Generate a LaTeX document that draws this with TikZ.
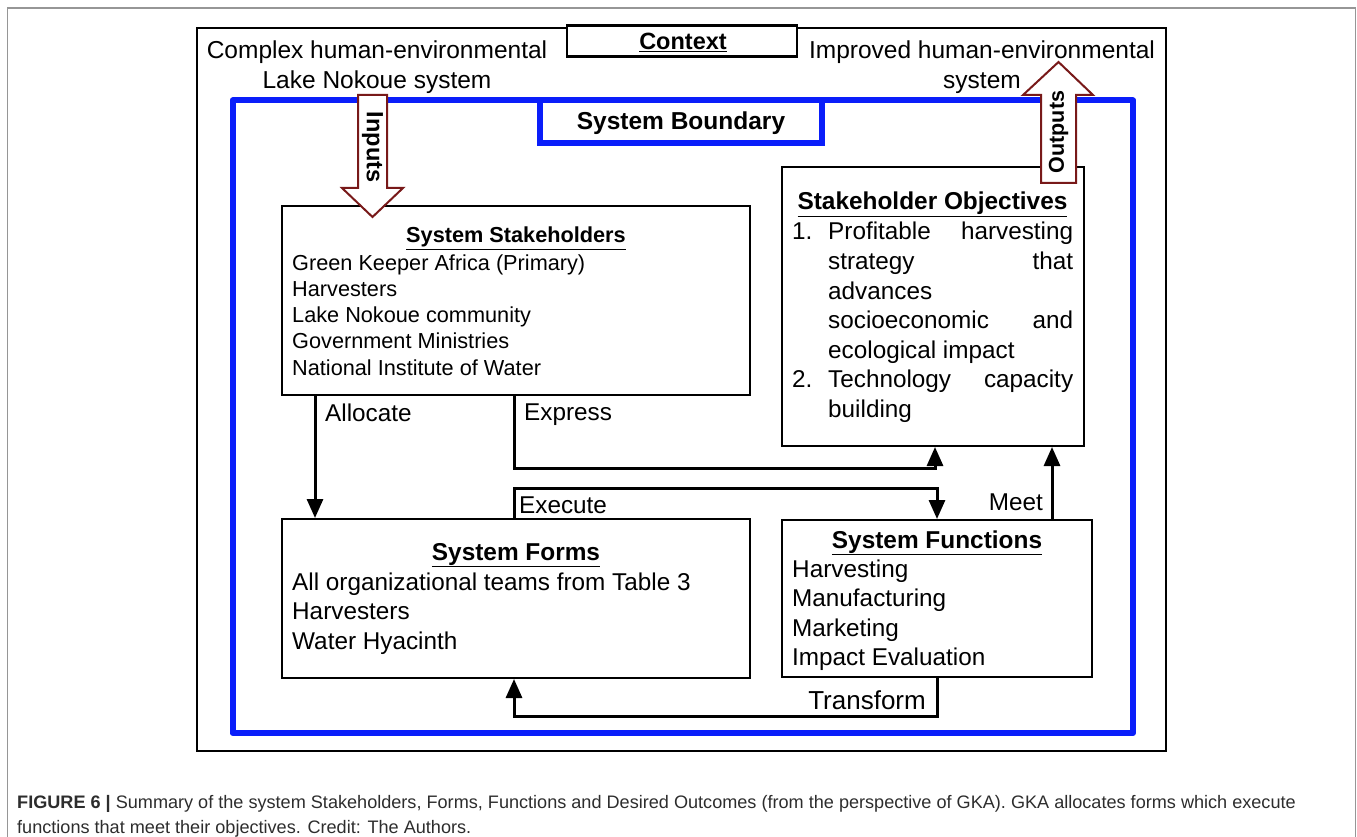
\documentclass[tikz,border=0pt]{standalone}
\usepackage{fontspec}
\setmainfont{Liberation Sans}
\usetikzlibrary{arrows.meta,calc}
\definecolor{boundblue}{RGB}{10,30,250}
\definecolor{flowred}{RGB}{120,25,25}
\definecolor{pagegray}{RGB}{150,150,150}
\definecolor{captext}{RGB}{45,45,45}

\begin{document}
\begin{tikzpicture}[x=1pt,y=-1pt,
  box/.style={draw=black,line width=2pt,fill=white,rectangle,inner sep=0pt},
  conn/.style={line width=3pt,-{Triangle[length=19pt,width=16pt]}},
  body/.style={inner sep=0pt,anchor=base west,font=\fontsize{24.3}{29}\selectfont},
  smallbody/.style={inner sep=0pt,anchor=base west,font=\fontsize{21.7}{26}\selectfont},
  head/.style={inner sep=0pt,anchor=base,font=\fontsize{24.4}{29}\selectfont\bfseries},
  smallhead/.style={inner sep=0pt,anchor=base,font=\fontsize{21.7}{26}\selectfont\bfseries},
  ctx/.style={inner sep=0pt,align=center,font=\fontsize{24.5}{30}\selectfont},
  flow/.style={draw=flowred,fill=white,line width=2pt,line join=miter},
  flowlbl/.style={inner sep=0pt,font=\fontsize{21.5}{24}\selectfont\bfseries},
  caption/.style={inner sep=0pt,anchor=base west,text=captext,font=\fontsize{18.1}{22}\selectfont}
]
\useasboundingbox (0,0) rectangle (1357,837);

% page frame (open at the bottom)
\draw[pagegray,line width=1.5pt] (7.5,837) -- (7.5,8) -- (1355.5,8) -- (1355.5,837);

% outer context frame
\draw[line width=2pt] (197,28) rectangle (1166,751);
\node[box,line width=2.5pt,minimum width=230pt,minimum height=31pt] (context) at (682,41) {};
\node[inner sep=0pt,font=\fontsize{23.5}{28}\selectfont\bfseries] (contextlbl) at (683,42) {\underline{Context}};

\node[ctx] (envin) at (377,67) {Complex human-environmental\\Lake Nokoue system};
\node[ctx] (envout) at (982,67) {Improved human-environmental\\system};

% system boundary
\draw[boundblue,line width=6pt,line join=round] (232.5,100.5) rectangle (1133,733);
\node[draw=boundblue,line width=6pt,fill=white,rectangle,minimum width=282pt,minimum height=43pt] (boundary) at (681,121.5) {};
\node[inner sep=0pt,font=\fontsize{24.5}{28}\selectfont\bfseries] (boundarylbl) at (681,123) {System Boundary};

% main boxes
\node[box,minimum width=468pt,minimum height=189pt] (stk) at (516,300.5) {};
\node[box,minimum width=302pt,minimum height=279pt] (obj) at (933,306.5) {};
\node[box,minimum width=468pt,minimum height=159pt] (frm) at (516,598.5) {};
\node[box,minimum width=310pt,minimum height=157pt] (fun) at (937,598.5) {};

% stakeholders
\node[smallhead] (stkt) at (516,243) {\underline{System Stakeholders}};
\node[smallbody] (stk1) at (292,270) {Green Keeper Africa (Primary)};
\node[smallbody] (stk2) at (292,296.5) {Harvesters};
\node[smallbody] (stk3) at (292,322.5) {Lake Nokoue community};
\node[smallbody] (stk4) at (292,348.5) {Government Ministries};
\node[smallbody] (stk5) at (292,375) {National Institute of Water};

% objectives
\node[head] (objt) at (932.5,210) {\underline{Stakeholder Objectives}};
\node[body] (obj1n) at (792,240) {1.};
\node[body] (obj1a) at (828,240) {\hbox to 245pt{Profitable\hfill harvesting}};
\node[body] (obj1b) at (828,269.5) {\hbox to 245pt{strategy\hfill that}};
\node[body] (obj1c) at (828,299) {advances};
\node[body] (obj1d) at (828,328.5) {\hbox to 245pt{socioeconomic\hfill and}};
\node[body] (obj1e) at (828,358) {ecological impact};
\node[body] (obj2n) at (792,387.5) {2.};
\node[body] (obj2a) at (828,387.5) {\hbox to 245pt{Technology\hfill capacity}};
\node[body] (obj2b) at (828,417) {building};

% forms
\node[head] (frmt) at (516,560) {\underline{System Forms}};
\node[body] (frm1) at (292,590) {All organizational teams from Table 3};
\node[body] (frm2) at (292,619.5) {Harvesters};
\node[body] (frm3) at (292,649) {Water Hyacinth};

% functions
\node[head] (funt) at (937,548) {\underline{System Functions}};
\node[body] (fun1) at (792,577) {Harvesting};
\node[body] (fun2) at (792,606.5) {Manufacturing};
\node[body] (fun3) at (792,636) {Marketing};
\node[body] (fun4) at (792,665.5) {Impact Evaluation};

% connectors
\coordinate (allocx) at (315,0);
\coordinate (expbend) at (514,468);
\coordinate (exebend) at (514,488);
\coordinate (meetx) at (1052,0);
\coordinate (trbend) at (514,716);
\draw[conn] (stk.south -| allocx) -- (frm.north -| allocx);
\draw[conn] (stk.south -| expbend) -- (expbend) -| ([xshift=2pt]obj.south);
\draw[conn] (frm.north -| exebend) -- (exebend) -| (fun.north);
\draw[conn] (fun.north -| meetx) -- (obj.south -| meetx);
\draw[conn] (fun.south) |- (trbend) -- (frm.south -| trbend);

\node[body] (alloclbl) at (325,421) {Allocate};
\node[body] (explbl) at (524,420) {Express};
\node[body] (exelbl) at (519,513) {Execute};
\node[body,anchor=base east] (meetlbl) at (1043,510) {Meet};
\node[body,anchor=base east,font=\fontsize{26}{30}\selectfont] (trlbl) at (926,709) {Transform};

% inputs and outputs
\draw[flow] (358,95) -- (387,95) -- (387,188) -- (403,188) -- (372.5,217) -- (342,188) -- (358,188) -- cycle;
\node[flowlbl,rotate=-90,font=\fontsize{23.5}{26}\selectfont\bfseries] (inlbl) at (372.5,147) {Inputs};
\draw[flow] (1041,183) -- (1076,183) -- (1076,95) -- (1093,95) -- (1058.5,62) -- (1023,95) -- (1041,95) -- cycle;
\node[flowlbl,rotate=90] (outlbl) at (1058.5,132) {Outputs};

% caption
\node[caption] (cap1) at (17,808) {\textbf{FIGURE 6 |} Summary of the system Stakeholders, Forms, Functions and Desired Outcomes (from the perspective of GKA). GKA allocates forms which execute};
\node[caption] (cap2) at (17,833) {functions that meet their objectives. Credit: The Authors.};
\end{tikzpicture}
\end{document}
